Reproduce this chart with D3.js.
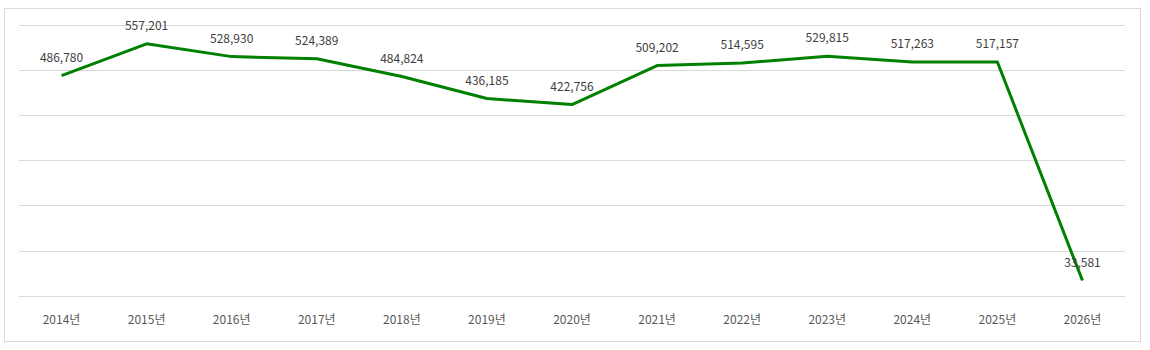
<!DOCTYPE html>
<html><head><meta charset="utf-8">
<script src="https://cdn.jsdelivr.net/npm/d3@7"></script>
<style>body{margin:0;background:#fff;}svg{display:block;}</style>
</head><body>
<svg id="c" width="1150" height="350"></svg>
<script>
const years = ["2014년","2015년","2016년","2017년","2018년","2019년","2020년","2021년","2022년","2023년","2024년","2025년","2026년"];
const values = [486780,557201,528930,524389,484824,436185,422756,509202,514595,529815,517263,517157,33581];
const yTicks = [0,100000,200000,300000,400000,500000,600000];

const svg = d3.select("#c");
const font = "'Noto Sans CJK KR', 'Noto Sans', sans-serif";
svg.append("rect").attr("x",4.5).attr("y",8.5).attr("width",1136).attr("height",333)
  .attr("fill","#fff").attr("stroke","#d9d9d9").attr("stroke-width",1);

const x = d3.scaleBand().domain(years).range([19,1125]);
const y = d3.scaleLinear().domain([0,600000]).range([295.7,24.5]);

svg.append("g").selectAll("line").data(yTicks).join("line")
  .attr("x1",19).attr("x2",1125)
  .attr("y1",d=>Math.round(y(d))+0.5).attr("y2",d=>Math.round(y(d))+0.5)
  .attr("stroke","#d9d9d9").attr("stroke-width",1);

const xAxis = svg.append("g").attr("transform","translate(0,296)")
  .call(d3.axisBottom(x).tickSize(0).tickPadding(19));
xAxis.select(".domain").remove();
xAxis.selectAll("text").attr("fill","#595959").style("font-family",font).style("font-size","12px");

const line = d3.line().x((d,i)=>x(years[i])+x.bandwidth()/2).y(d=>y(d));
svg.append("path").datum(values).attr("d",line).attr("fill","none")
  .attr("stroke","#008000").attr("stroke-width",3).attr("stroke-linejoin","round");

svg.append("g").selectAll("text").data(values).join("text")
  .attr("x",(d,i)=>x(years[i])+x.bandwidth()/2)
  .attr("y",d=>y(d)-14)
  .attr("text-anchor","middle")
  .attr("fill","#404040").style("font-family",font).style("font-size","12px")
  .text(d=>d3.format(",")(d));
</script>
</body></html>
